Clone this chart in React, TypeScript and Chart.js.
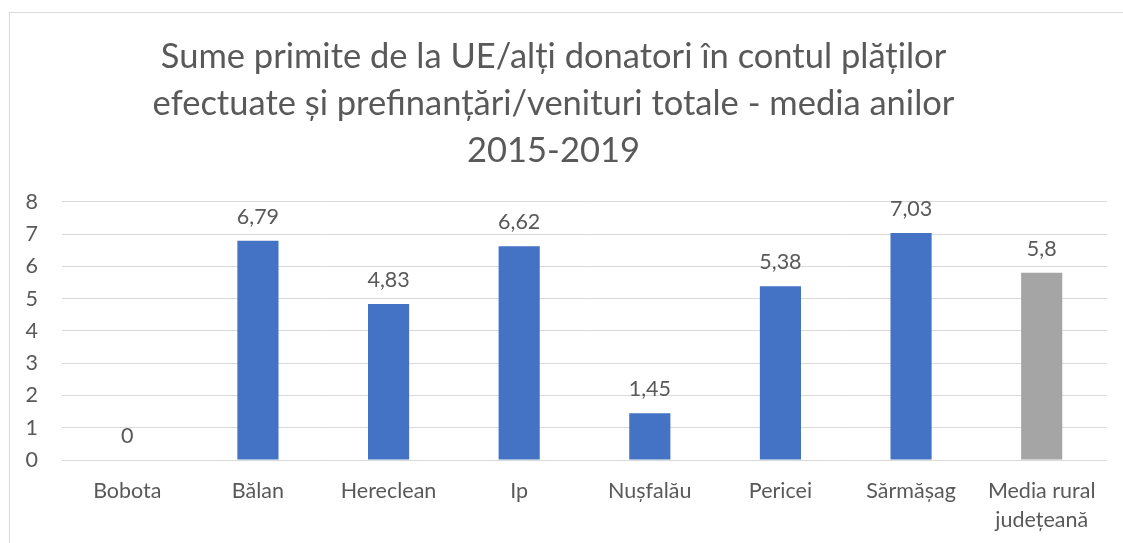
import React, { useEffect, useRef } from "react";
import { Chart, registerables } from "chart.js";

Chart.register(...registerables);

const categories: (string | string[])[] = [
  "Bobota",
  "Bălan",
  "Hereclean",
  "Ip",
  "Nușfalău",
  "Pericei",
  "Sărmășag",
  ["Media rural", "județeană"],
];
const values: number[] = [0, 6.79, 4.83, 6.62, 1.45, 5.38, 7.03, 5.8];
const barColors: string[] = [
  "#4472C4",
  "#4472C4",
  "#4472C4",
  "#4472C4",
  "#4472C4",
  "#4472C4",
  "#4472C4",
  "#A5A5A5",
];
const titleLines: string[] = [
  "Sume primite de la UE/alți donatori în contul plăților",
  "efectuate și prefinanțări/venituri totale - media anilor",
  "2015-2019",
];
const yTicks: number[] = [0, 1, 2, 3, 4, 5, 6, 7, 8];

const FONT = "Lato, 'Open Sans', sans-serif";
const TEXT = "#595959";

const framePlugin = {
  id: "frame",
  beforeDraw(chart: any) {
    const ctx = chart.ctx;
    ctx.save();
    ctx.fillStyle = "#ffffff";
    ctx.fillRect(0, 0, chart.width, chart.height);
    ctx.strokeStyle = "#D9D9D9";
    ctx.lineWidth = 1;
    ctx.strokeRect(9.5, 12.5, chart.width + 20, chart.height + 20);
    ctx.restore();
  },
};

const labelPlugin = {
  id: "barLabels",
  afterDatasetsDraw(chart: any) {
    const ctx = chart.ctx;
    const meta = chart.getDatasetMeta(0);
    ctx.save();
    ctx.font = `21.5px ${FONT}`;
    ctx.fillStyle = TEXT;
    ctx.textAlign = "center";
    ctx.textBaseline = "alphabetic";
    meta.data.forEach((bar: any, i: number) => {
      const v = chart.data.datasets[0].data[i] as number;
      ctx.fillText(String(v).replace(".", ","), bar.x, bar.y - 17);
    });
    ctx.restore();
  },
};

export default function App() {
  const ref = useRef<HTMLCanvasElement | null>(null);
  useEffect(() => {
    if (!ref.current) return;
    const chart = new Chart(ref.current, {
      type: "bar",
      data: {
        labels: categories,
        datasets: [
          {
            data: values,
            backgroundColor: barColors,
            borderWidth: 0,
            barPercentage: 0.315,
            categoryPercentage: 1,
          },
        ],
      },
      options: {
        responsive: false,
        animation: false,
        devicePixelRatio: 1,
        layout: { padding: { left: 0, right: 16, top: 0, bottom: 0 } },
        plugins: {
          legend: { display: false },
          tooltip: { enabled: false },
          title: {
            display: true,
            text: titleLines,
            color: TEXT,
            font: { family: FONT, size: 34.5, weight: "normal", lineHeight: 1.35 },
            padding: { top: 34, bottom: 28 },
          },
        },
        scales: {
          x: {
            grid: { display: false, drawTicks: false },
            border: { display: false },
            ticks: {
              color: TEXT,
              font: { family: FONT, size: 21.5, lineHeight: 1.32 },
              padding: 17,
              maxRotation: 0,
              autoSkip: false,
            },
            afterFit: (s: any) => {
              s.height = 83;
            },
          },
          y: {
            min: 0,
            max: 8,
            afterBuildTicks: (s: any) => {
              s.ticks = yTicks.map((v) => ({ value: v }));
            },
            grid: { color: "#D9D9D9", lineWidth: 1, drawTicks: false },
            border: { display: false },
            ticks: {
              color: TEXT,
              font: { family: FONT, size: 21.5 },
              padding: 24,
            },
            afterFit: (s: any) => {
              s.width = 62;
            },
          },
        },
      },
      plugins: [framePlugin, labelPlugin],
    });
    return () => chart.destroy();
  }, []);
  return (
    <div style={{ position: "absolute", left: 0, top: 0, width: 1123, height: 543 }}>
      <canvas ref={ref} width={1123} height={543} />
    </div>
  );
}
